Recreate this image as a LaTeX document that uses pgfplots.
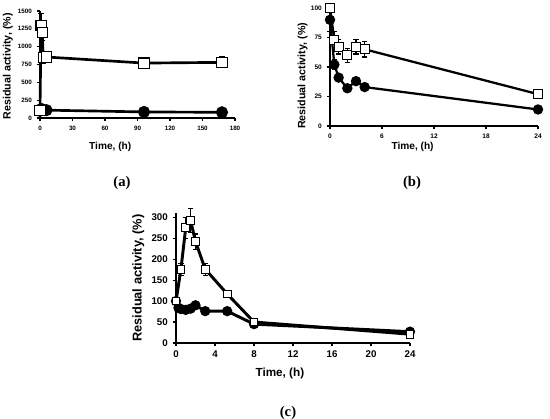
\documentclass[border=0pt]{standalone}
\usepackage{fontspec}
\setmainfont{Liberation Sans}
\newfontfamily\capfont{Liberation Serif}
\usepackage{pgfplots}
\pgfplotsset{compat=1.18}
\pgfplotsset{
  panel/.style={
    scale only axis, axis lines=left,
    axis line style={-, line width=0.9pt},
    tick align=outside, major tick length=2.6pt,
    every tick/.style={black, line width=0.9pt},
    /pgf/number format/assume math mode=true,
    /pgf/number format/set thousands separator={},
    clip=false,
  },
  circ/.style={black, line width=#1, mark=*, mark options={fill=black, solid},
    error bars/.cd, y dir=both, y explicit,
    error bar style={line width=0.8pt, black},
    error mark options={rotate=90, mark size=2pt, line width=0.8pt, black},
    /pgfplots/.cd},
  sq/.style={black, line width=#1, mark=square*, mark options={fill=white, draw=black, line width=0.8pt, solid},
    error bars/.cd, y dir=both, y explicit,
    error bar style={line width=0.8pt, black},
    error mark options={rotate=90, mark size=2pt, line width=0.8pt, black},
    /pgfplots/.cd},
}
\begin{document}
\begin{tikzpicture}
% ---------- (a) ----------
\begin{axis}[panel, at={(30pt,-88.5pt)}, anchor=south west,
  width=146.25pt, height=80.25pt,
  xmin=0, xmax=180, ymin=0, ymax=1500,
  xtick={0,30,60,90,120,150,180}, ytick={0,250,500,750,1000,1250,1500},
  tick label style={font=\fontsize{4.7}{5.5}\selectfont\bfseries},
  xlabel={Time, (h)}, ylabel={Residual activity, (\%)},
  xlabel style={font=\fontsize{7.6}{9}\selectfont\bfseries, at={(axis description cs:0.36,-0.27)}, anchor=center},
  ylabel style={font=\fontsize{8}{9}\selectfont\bfseries, at={(axis description cs:-0.165,0.483)}, anchor=center},
]
\addplot[mark size=3.5pt, circ=2pt] coordinates {
 (0,100) +- (0,10) (1,125) +- (0,15) (2,120) +- (0,10) (3,115) +- (0,10)
 (6,110) +- (0,10) (96,85) +- (0,8) (168,80) +- (0,8)};
\addplot[mark size=3.8pt, sq=2pt] coordinates {
 (0,100) +- (0,0) (1,1300) +- (0,170) (2,1200) +- (0,120) (3,850) +- (0,85)
 (6,855) +- (0,80) (96,770) +- (0,75) (168,780) +- (0,75)};
\end{axis}
% ---------- (b) ----------
\begin{axis}[panel, at={(247.5pt,-94.5pt)}, anchor=south west,
  width=156pt, height=88.5pt,
  xmin=0, xmax=24, ymin=0, ymax=100,
  xtick={0,6,12,18,24}, ytick={0,25,50,75,100},
  tick label style={font=\fontsize{4.9}{5.5}\selectfont\bfseries},
  xlabel={Time, (h)}, ylabel={Residual activity, (\%)},
  xlabel style={font=\fontsize{7.6}{9}\selectfont\bfseries, at={(axis description cs:0.397,-0.178)}, anchor=center},
  ylabel style={font=\fontsize{8}{9}\selectfont\bfseries, at={(axis description cs:-0.132,0.425)}, anchor=center},
]
\addplot[mark size=3pt, circ=1.7pt] coordinates {
 (0,90) +- (0,10) (0.5,52) +- (0,4) (1,41) +- (0,3) (2,32) +- (0,3)
 (3,38) +- (0,3) (4,33) +- (0,2) (24,14) +- (0,1)};
\addplot[mark size=3.3pt, sq=1.7pt] coordinates {
 (0,100) +- (0,0) (0.5,73) +- (0,7) (1,67) +- (0,6) (2,60) +- (0,6)
 (3,67) +- (0,6) (4,65) +- (0,6.5) (24,27) +- (0,1)};
\end{axis}
% ---------- (c) ----------
\begin{axis}[panel, at={(132pt,-257.25pt)}, anchor=south west,
  width=175.5pt, height=97.5pt,
  xmin=0, xmax=24, ymin=0, ymax=310,
  xtick={0,4,8,12,16,20,24}, ytick={0,50,100,150,200,250,300},
  tick label style={font=\fontsize{7.3}{8.5}\selectfont\bfseries},
  xlabel={Time, (h)}, ylabel={Residual activity, (\%)},
  xlabel style={font=\fontsize{8.8}{10}\selectfont\bfseries, at={(axis description cs:0.444,-0.231)}, anchor=center},
  ylabel style={font=\fontsize{9.6}{11}\selectfont\bfseries, at={(axis description cs:-0.161,0.498)}, anchor=center},
]
\addplot[mark size=2.7pt, circ=2.2pt] coordinates {
 (0,100) +- (0,0) (0.25,84) +- (0,3) (0.5,81) +- (0,3) (1,79) +- (0,3)
 (1.5,82) +- (0,3) (2,90) +- (0,3) (3,76) +- (0,3) (5.25,76) +- (0,3)
 (8,45) +- (0,3) (24,27) +- (0,2)};
\addplot[mark size=2.9pt, sq=2.2pt] coordinates {
 (0,100) +- (0,0) (0.5,175) +- (0,15) (1,275) +- (0,25) (1.5,292) +- (0,28)
 (2,242) +- (0,18) (3,176) +- (0,14) (5.25,117) +- (0,5) (8,50) +- (0,3)
 (24,21) +- (0,3)};
\end{axis}
% captions
\node[font=\capfont\bfseries\fontsize{11}{13}\selectfont] at (91.5pt,-137.25pt) {(a)};
\node[font=\capfont\bfseries\fontsize{11}{13}\selectfont] at (309pt,-137.25pt) {(b)};
\node[font=\capfont\bfseries\fontsize{11}{13}\selectfont] at (216pt,-309.75pt) {(c)};
\pgfresetboundingbox
\path[use as bounding box] (0,0) rectangle (412.5pt,-313.5pt);
\end{tikzpicture}
\end{document}
